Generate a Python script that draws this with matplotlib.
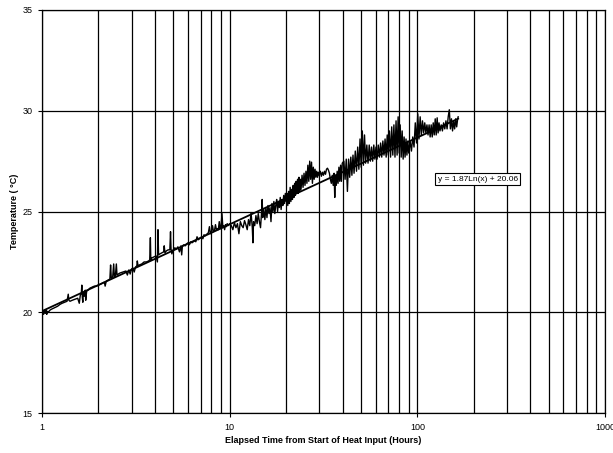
"""Temperature rise vs log elapsed time, with logarithmic trend line."""

import numpy as np
import matplotlib
matplotlib.use("Agg")
import matplotlib.pyplot as plt

# --- data ---
hours_a = [1.00, 1.01, 1.02, 1.03, 1.04, 1.05, 1.06, 1.07, 1.08, 1.10, 1.12, 1.15, 1.18, 1.21,
           1.25, 1.28, 1.32, 1.36, 1.38, 1.39, 1.41, 1.45, 1.50, 1.55, 1.58, 1.60, 1.62, 1.63,
           1.64, 1.65, 1.66, 1.68, 1.70, 1.71, 1.73, 1.76, 1.80, 1.85, 1.90, 1.95, 2.00]
temps_a = [19.85, 20.05, 19.9, 20.1, 19.95, 20.1, 19.9, 20.05, 20.0, 20.1, 20.15, 20.2, 20.25, 20.3,
           20.4, 20.45, 20.5, 20.55, 20.9, 20.6, 20.55, 20.6, 20.65, 20.7, 20.45, 20.85, 20.95, 21.35,
           20.75, 20.5, 21.0, 20.8, 21.1, 20.6, 21.05, 21.1, 21.2, 21.25, 21.3, 21.3, 21.35]

hours_b = [2.05, 2.10, 2.15, 2.17, 2.20, 2.25, 2.30, 2.32, 2.34, 2.38, 2.41, 2.43, 2.46, 2.49,
           2.51, 2.55, 2.60, 2.70, 2.80, 2.85, 2.90, 2.95, 3.00, 3.05, 3.10, 3.15, 3.20, 3.22,
           3.25, 3.30, 3.40, 3.50, 3.60, 3.70, 3.75, 3.78, 3.80, 3.85, 3.95, 4.05, 4.12, 4.15,
           4.18, 4.25, 4.35, 4.45, 4.48, 4.52, 4.60, 4.70, 4.80, 4.84, 4.87, 4.92, 5.00]
temps_b = [21.4, 21.45, 21.5, 21.3, 21.55, 21.6, 21.65, 22.35, 21.7, 21.75, 22.4, 21.75, 21.8, 22.4,
           21.85, 21.9, 21.95, 22.0, 22.05, 21.85, 22.1, 21.9, 22.15, 22.2, 22.0, 22.25, 22.3, 22.55,
           22.3, 22.35, 22.4, 22.5, 22.5, 22.55, 22.6, 23.7, 22.6, 22.7, 22.75, 22.8, 22.5, 24.1,
           22.85, 22.9, 22.95, 23.0, 23.3, 22.95, 23.05, 23.1, 23.1, 24.0, 23.15, 22.9, 23.1]

hours_c = [5.1, 5.2, 5.3, 5.4, 5.5, 5.55, 5.6, 5.7, 5.8, 5.9, 6.0, 6.1, 6.2, 6.3, 6.4, 6.5, 6.6,
           6.7, 6.8, 6.9, 7.0, 7.1, 7.2, 7.3, 7.4, 7.5, 7.6, 7.7, 7.8, 7.9, 8.0, 8.1, 8.2, 8.3,
           8.4, 8.5, 8.6, 8.7, 8.8, 8.9, 9.0, 9.1, 9.2, 9.3, 9.4, 9.5, 9.6, 9.7, 9.8, 9.9, 10.0]
temps_c = [23.2, 23.15, 23.25, 23.0, 23.3, 22.85, 23.3, 23.35, 23.3, 23.4, 23.45, 23.35, 23.5, 23.45,
           23.5, 23.55, 23.5, 23.75, 23.6, 23.65, 23.7, 23.75, 23.65, 23.85, 23.8, 23.85, 23.9, 23.95,
           24.25, 23.9, 24.0, 24.3, 24.0, 24.05, 24.35, 24.1, 24.15, 24.1, 24.5, 24.15, 24.3, 24.9,
           24.2, 24.3, 24.1, 24.35, 24.25, 24.4, 24.3, 24.35, 24.4]

hours_d = [10.2, 10.4, 10.6, 10.8, 11.0, 11.2, 11.4, 11.6, 11.8, 12.0, 12.2, 12.4, 12.6, 12.8,
           13.0, 13.2, 13.3, 13.4, 13.6, 13.8, 14.0, 14.2, 14.4, 14.6, 14.8, 14.9, 15.0, 15.2,
           15.4, 15.6, 15.8, 16.0, 16.2, 16.4, 16.6, 16.8, 17.0, 17.2, 17.4, 17.6, 17.8, 18.0,
           18.2, 18.4, 18.6, 18.8, 19.0, 19.2, 19.4, 19.6, 19.8, 20.0]
temps_d = [24.3, 24.1, 24.45, 24.2, 24.4, 23.9, 24.5, 24.3, 24.2, 24.55, 24.35, 24.1, 24.6, 24.3,
           24.95, 24.2, 23.45, 24.5, 24.3, 24.8, 24.4, 24.9, 24.5, 24.2, 25.0, 25.6, 24.7, 25.1,
           24.6, 25.2, 24.7, 25.3, 24.9, 25.2, 24.5, 25.4, 25.0, 25.5, 24.9, 25.3, 25.6, 25.0,
           25.5, 25.2, 25.7, 25.1, 25.6, 25.3, 25.8, 25.4, 25.9, 25.5]

hours_e = [20.2, 20.4, 20.6, 20.8, 21.0, 21.2, 21.4, 21.6, 21.8, 22.0, 22.2, 22.4, 22.6, 22.8,
           23.0, 23.2, 23.4, 23.6, 23.8, 24.0, 24.3, 24.6, 24.9, 25.2, 25.5, 25.8, 26.1, 26.4,
           26.7, 27.0, 27.3, 27.6, 27.9, 28.2, 28.5, 28.8, 29.1, 29.4, 29.7, 30.0, 30.4, 30.8,
           31.2, 31.6, 32.0, 32.4, 32.8, 33.2, 33.6, 34.0, 34.4, 34.8, 35.2, 35.6, 36.0, 36.3,
           36.6, 37.0, 37.4, 37.8, 38.2, 38.6, 39.0, 39.4, 39.8]
temps_e = [25.9, 25.3, 26.0, 25.4, 26.2, 25.5, 26.1, 25.6, 26.3, 25.7, 26.4, 25.8, 26.5, 25.9,
           26.6, 25.9, 26.7, 26.0, 26.6, 26.1, 26.8, 26.2, 26.9, 26.3, 27.0, 26.4, 27.3, 26.5,
           27.5, 26.6, 27.45, 26.4, 27.2, 26.6, 27.1, 26.7, 27.0, 26.7, 26.95, 26.8, 27.0, 26.75,
           26.95, 26.8, 27.0, 26.85, 27.1, 27.15, 27.05, 26.9, 26.6, 26.4, 26.8, 26.3, 26.9, 25.7,
           26.8, 26.3, 27.0, 26.4, 27.2, 26.5, 27.3, 26.5, 27.4]

hours_f = [40.6, 41.2, 41.8, 42.4, 43.0, 43.6, 44.2, 44.8, 45.4, 46.0, 46.7, 47.4, 48.1, 48.8,
           49.5, 50.2, 50.9, 51.6, 52.3, 53.0, 53.8, 54.6, 55.4, 56.2, 57.0, 57.8, 58.6, 59.4,
           60.2, 61.0, 61.9, 62.8, 63.7, 64.6, 65.5, 66.4, 67.3, 68.2, 69.1, 70.0, 71.0, 72.0,
           73.0, 74.0, 75.0, 76.0, 77.0, 78.0, 79.0, 80.0, 81.0, 82.0, 83.0, 84.0, 85.0, 86.0,
           87.0, 88.0, 89.0, 90.0, 91.5, 93.0, 94.5, 96.0, 97.5, 99.0, 100.5, 102.0, 103.5, 105.0,
           106.5, 108.0, 109.5, 111.0, 112.5, 114.0, 115.5, 117.0, 118.5, 120.0, 121.5, 123.0,
           124.5, 126.0, 127.5, 129.0, 130.5, 132.0, 134.0, 136.0, 138.0, 140.0, 142.0, 144.0,
           146.0, 148.0, 150.0, 152.0, 154.0, 156.0, 158.0, 160.0, 162.0, 164.0, 165.0]
temps_f = [27.5, 26.6, 27.6, 26.0, 27.6, 26.7, 27.7, 26.8, 27.8, 26.9, 28.0, 27.0, 28.2, 27.1,
           28.6, 27.2, 29.0, 27.3, 28.8, 27.4, 28.3, 27.4, 28.3, 27.5, 28.2, 27.5, 28.3, 27.6,
           28.2, 27.6, 28.3, 27.7, 28.4, 27.7, 28.5, 27.8, 28.6, 27.7, 28.8, 27.8, 29.0, 27.7,
           29.2, 27.8, 29.3, 27.7, 29.5, 27.8, 29.7, 27.9, 29.3, 27.7, 29.0, 27.6, 28.7, 27.7,
           28.6, 27.8, 28.5, 27.9, 28.5, 28.0, 28.7, 28.2, 29.4, 28.4, 29.85, 28.6, 29.7, 28.8,
           29.5, 28.9, 29.4, 28.9, 29.3, 28.8, 29.3, 28.7, 29.3, 28.7, 29.4, 28.8,
           29.6, 28.8, 29.65, 28.9, 29.4, 29.0, 29.3, 29.0, 29.4, 29.1, 29.5, 29.1,
           29.7, 30.05, 29.1, 29.6, 29.0, 29.5, 29.1, 29.6, 29.2, 29.6, 29.7]

# trend line coefficients, as printed on the chart: y = a*ln(x) + b
fit_a = 1.87
fit_b = 20.06
fit_range = [1.0, 165.0]

hours = hours_a + hours_b + hours_c + hours_d + hours_e + hours_f
temps = temps_a + temps_b + temps_c + temps_d + temps_e + temps_f

plt.rcParams["font.family"] = ["Liberation Sans", "DejaVu Sans"]

fig = plt.figure(figsize=(6.13, 4.53), dpi=100)
ax = fig.add_axes([0.0685, 0.088, 0.9185, 0.89])

ax.plot(hours, temps, color="black", lw=1.0, zorder=3)

xf = np.geomspace(fit_range[0], fit_range[1], 200)
ax.plot(xf, fit_a * np.log(xf) + fit_b, color="black", lw=1.3, zorder=4)

ax.set_xscale("log")
ax.set_xlim(1, 1000)
ax.set_ylim(15, 35)
ax.set_yticks([15, 20, 25, 30, 35])
ax.set_xticks([1, 10, 100, 1000])
ax.set_xticklabels(["1", "10", "100", "1000"])
ax.minorticks_on()
ax.yaxis.set_minor_locator(matplotlib.ticker.NullLocator())
ax.xaxis.set_minor_formatter(matplotlib.ticker.NullFormatter())
ax.grid(True, which="both", axis="x", color="black", lw=0.9)
ax.grid(True, which="major", axis="y", color="black", lw=0.9)
ax.tick_params(axis="both", which="major", labelsize=6.5, length=3, width=0.8, pad=4)
ax.tick_params(axis="x", which="minor", length=0)
for s in ax.spines.values():
    s.set_linewidth(0.9)

ax.set_xlabel("Elapsed Time from Start of Heat Input (Hours)", fontsize=6.5,
              fontweight="bold", labelpad=3)
ax.set_ylabel("Temperature ( °C)", fontsize=6.5, fontweight="bold", labelpad=2)

ax.text(210, 26.6, "y = 1.87Ln(x) + 20.06", fontsize=6, ha="center", va="center",
        zorder=5, bbox=dict(boxstyle="square,pad=0.3", fc="white", ec="black", lw=0.8))

fig.savefig("out.png", dpi=100)
